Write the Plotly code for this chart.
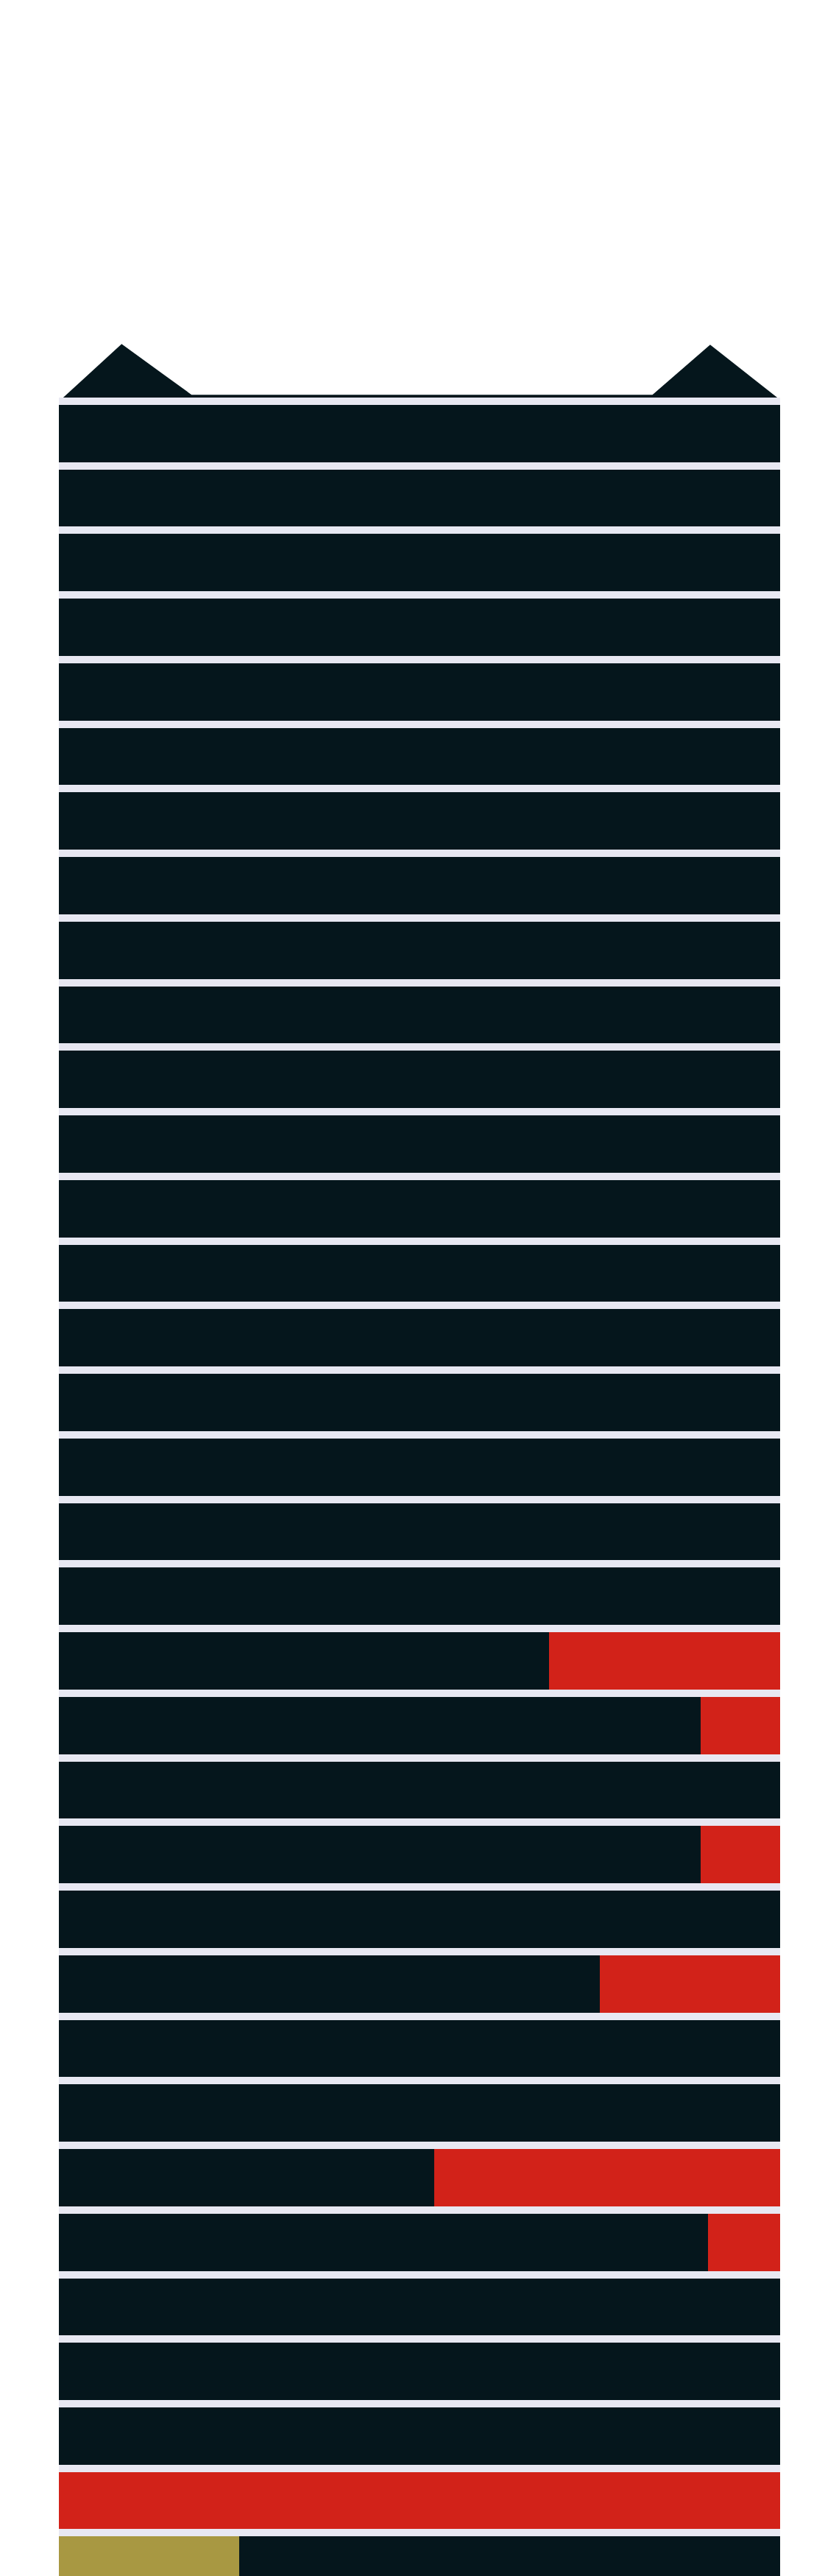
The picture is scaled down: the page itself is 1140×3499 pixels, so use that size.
import plotly.graph_objects as go

# Rows from top (0) to bottom (33)
rows = list(range(34))
olive_vals = [0]*33 + [25]
red_vals = [0]*34
dark_vals = [100]*34
for r, v in {19: 32, 20: 11, 22: 11, 24: 25, 27: 48, 28: 10, 32: 100}.items():
    red_vals[r] = v
    dark_vals[r] = 100 - v
dark_vals[33] = 75

# roof outline (percent of width, row units above the first floor)
roof_x = [0.6, 8.7, 18.4, 82.3, 90.3, 99.6, 0.6]
roof_y = [-0.557, -1.385, -0.6, -0.6, -1.375, -0.557, -0.557]

DARK = "#05161c"
RED = "#d22219"
OLIVE = "#a89842"
SEP = "#e8e8f2"

fig = go.Figure()
fig.add_trace(go.Bar(y=rows, x=olive_vals, orientation="h", marker=dict(color=OLIVE, line=dict(width=0)), name="olive"))
fig.add_trace(go.Bar(y=rows, x=dark_vals, orientation="h", marker=dict(color=DARK, line=dict(width=0)), name="dark"))
fig.add_trace(go.Bar(y=rows, x=red_vals, orientation="h", marker=dict(color=RED, line=dict(width=0)), name="red"))
fig.add_trace(go.Scatter(x=roof_x, y=roof_y, fill="toself", fillcolor=DARK, mode="lines",
                         line=dict(color=DARK, width=0), hoverinfo="skip"))

fig.add_shape(type="rect", xref="x domain", yref="y", x0=0, x1=1, y0=-1.6, y1=-0.557,
              fillcolor="white", line=dict(width=0), layer="below")

fig.update_layout(
    width=1124, height=3491,
    margin=dict(l=72, r=72, t=454, b=0, pad=0),
    barmode="stack", bargap=0.114,
    plot_bgcolor=SEP, paper_bgcolor="white",
    showlegend=False,
    xaxis=dict(range=[0, 100], visible=False, showgrid=False, zeroline=False),
    yaxis=dict(range=[33.167, -1.446], visible=False, showgrid=False, zeroline=False),
)
fig.write_html("out.html")
